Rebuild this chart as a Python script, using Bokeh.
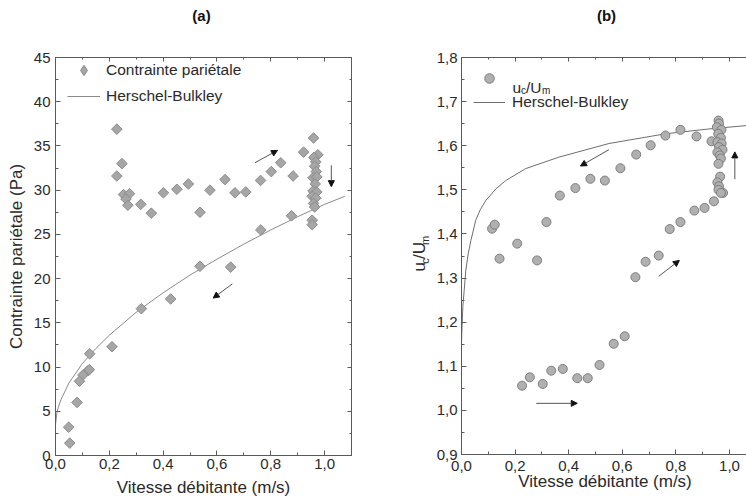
import numpy as np
from bokeh.plotting import figure
from bokeh.layouts import row, column
from bokeh.core.properties import value
from bokeh.models import (LinearAxis, SingleIntervalTicker, CustomJSTickFormatter, Legend,
                          LegendItem, Label, Arrow, NormalHead, Range1d)
from bokeh.embed import file_html
from bokeh.resources import INLINE

FONT = "Liberation Sans"

# ---------------- data: panel (a) ----------------
wall_v = [0.228, 0.228, 0.247, 0.253, 0.275, 0.262, 0.269, 0.317, 0.356, 0.401, 0.451, 0.494,
          0.537, 0.574, 0.630, 0.667, 0.707, 0.762, 0.763, 0.802, 0.837, 0.883, 0.877, 0.922,
          0.959, 0.975, 0.960, 0.967, 0.963, 0.969, 0.957, 0.971, 0.965, 0.957, 0.971, 0.954,
          0.967, 0.959, 0.963, 0.954, 0.954, 0.537, 0.651, 0.428, 0.319, 0.210, 0.127, 0.121,
          0.102, 0.126, 0.089, 0.080, 0.049, 0.053]
wall_tau = [36.9, 31.6, 33.0, 29.5, 29.6, 29.0, 28.3, 28.4, 27.4, 29.7, 30.1, 30.7,
            27.5, 30.0, 31.2, 29.7, 29.8, 31.1, 25.5, 32.1, 33.1, 31.6, 27.1, 34.3,
            35.9, 34.0, 33.7, 33.2, 32.7, 32.1, 31.4, 31.5, 30.7, 29.9, 29.8, 29.3,
            29.1, 28.5, 28.1, 26.6, 26.1, 21.4, 21.3, 17.7, 16.6, 12.3, 11.5, 9.6,
            9.1, 9.7, 8.4, 6.0, 3.2, 1.4]
hb_a_v = [0.0, 0.005, 0.01, 0.02, 0.05, 0.1, 0.15, 0.2, 0.3, 0.4, 0.5, 0.6, 0.7, 0.8, 0.9, 1.0, 1.075]
hb_a_tau = [3.5, 4.8, 5.4, 6.3, 8.2, 10.4, 12.1, 13.6, 16.2, 18.4, 20.4, 22.2, 23.9, 25.5, 27.0, 28.4, 29.3]
arrows_a_x0 = [0.741, 1.025, 0.657]
arrows_a_y0 = [33.1, 32.8, 19.4]
arrows_a_x1 = [0.825, 1.025, 0.586]
arrows_a_y1 = [34.5, 30.4, 17.8]

# ---------------- data: panel (b) ----------------
ratio_v = [0.114, 0.124, 0.208, 0.142, 0.282, 0.317, 0.367, 0.425, 0.481, 0.535, 0.593, 0.652,
           0.706, 0.761, 0.817, 0.877, 0.933,
           0.226, 0.255, 0.303, 0.335, 0.378, 0.432, 0.471, 0.515, 0.568, 0.609, 0.649, 0.687,
           0.736, 0.777, 0.817, 0.869, 0.907, 0.942, 0.976,
           0.959, 0.961, 0.953, 0.970, 0.958, 0.968, 0.955, 0.971, 0.961, 0.974, 0.955, 0.964,
           0.968, 0.959, 0.965, 0.955, 0.961, 0.959, 0.968]
ratio_u = [1.412, 1.421, 1.378, 1.344, 1.340, 1.427, 1.487, 1.504, 1.525, 1.521, 1.549, 1.580,
           1.601, 1.623, 1.636, 1.621, 1.610,
           1.056, 1.075, 1.060, 1.090, 1.094, 1.073, 1.073, 1.103, 1.151, 1.168, 1.302, 1.337,
           1.351, 1.411, 1.427, 1.453, 1.459, 1.474, 1.493,
           1.657, 1.650, 1.642, 1.636, 1.627, 1.618, 1.608, 1.605, 1.597, 1.591, 1.585, 1.578,
           1.571, 1.559, 1.530, 1.517, 1.508, 1.500, 1.493]
hb_b_v = [0.0, 0.001, 0.005, 0.010, 0.016, 0.025, 0.035, 0.053, 0.070, 0.091, 0.128, 0.165,
          0.239, 0.363, 0.55, 0.761, 0.923, 1.07]
hb_b_u = [1.15, 1.174, 1.235, 1.272, 1.317, 1.355, 1.385, 1.431, 1.455, 1.476, 1.502, 1.521,
          1.548, 1.574, 1.605, 1.627, 1.638, 1.646]
arrows_b_x0 = [0.550, 1.020, 0.736, 0.279]
arrows_b_y0 = [1.591, 1.524, 1.304, 1.016]
arrows_b_x1 = [0.444, 1.020, 0.813, 0.432]
arrows_b_y1 = [1.554, 1.586, 1.340, 1.016]

TITLES = ["(a)", "(b)"]
X_LABEL = "Vitesse débitante (m/s)"
Y_LABEL_A = "Contrainte pariétale (Pa)"

AX_COL = "#5a5a5a"
TXT_COL = "#2a2a2a"
W, H, TH = 746, 503, 30


def style_axis(ax, tick_font="15px"):
    ax.axis_line_color = AX_COL
    ax.major_tick_line_color = AX_COL
    ax.minor_tick_line_color = AX_COL
    ax.major_tick_in = 5
    ax.major_tick_out = 0
    ax.minor_tick_in = 3
    ax.minor_tick_out = 0
    ax.major_label_text_font = FONT
    ax.major_label_text_font_size = tick_font
    ax.major_label_text_color = TXT_COL
    ax.axis_label_text_font = FONT
    ax.axis_label_text_font_size = "17px"
    ax.axis_label_text_font_style = "normal"
    ax.axis_label_text_color = TXT_COL


def make_fig(xr, yr, fw, fh, bl, br, bt, bb):
    p = figure(x_range=Range1d(*xr), y_range=Range1d(*yr), frame_width=fw, frame_height=fh,
               min_border_left=bl, min_border_right=br, min_border_top=bt, min_border_bottom=bb,
               toolbar_location=None, output_backend="svg",
               background_fill_color="white", border_fill_color="white")
    p.grid.visible = False
    p.outline_line_color = AX_COL
    return p


def blank_fig(w, h, xr, yr):
    p = figure(width=w, height=h, x_range=Range1d(*xr), y_range=Range1d(*yr),
               x_axis_location=None, y_axis_location=None, toolbar_location=None,
               output_backend="svg", min_border=0, background_fill_color="white",
               border_fill_color="white")
    p.grid.visible = False
    p.outline_line_color = None
    return p


def mirror(p, side, ticker):
    ax = LinearAxis(ticker=ticker, formatter=CustomJSTickFormatter(code="return '';"))
    style_axis(ax)
    ax.major_label_standoff = 0
    ax.axis_line_color = None
    ax.major_tick_in = 4
    ax.minor_tick_in = 2
    p.add_layout(ax, side)


def comma(d):
    return CustomJSTickFormatter(code="return tick.toFixed(%d).replace('.', ',');" % d)


# ---------------- title strip (data units = canvas pixels) ----------------
pt = blank_fig(W, TH, (0, W), (TH, 0))
pt.text(x=[201, 606], y=[15, 15], text=TITLES, text_font=value(FONT), text_font_size="15px",
        text_font_style="bold", text_color="#111111", text_align="center",
        text_baseline="middle")

# ---------------- panel (a) ----------------
pa = make_fig((0, 1.1), (0, 45), 296, 398, 55, 22, 53 - TH, 52)
pa.xaxis.ticker = SingleIntervalTicker(interval=0.2, num_minor_ticks=2)
pa.yaxis.ticker = SingleIntervalTicker(interval=5, num_minor_ticks=2)
pa.xaxis.formatter = comma(1)
pa.yaxis.formatter = comma(0)
for ax in pa.xaxis + pa.yaxis:
    style_axis(ax)
pa.xaxis.axis_label = X_LABEL
pa.yaxis.axis_label = Y_LABEL_A
pa.xaxis.major_label_standoff = 3
pa.xaxis.axis_label_standoff = 6
pa.yaxis.major_label_standoff = 5
pa.yaxis.axis_label_standoff = 5
mirror(pa, "above", SingleIntervalTicker(interval=0.2, num_minor_ticks=2))
mirror(pa, "right", SingleIntervalTicker(interval=5, num_minor_ticks=2))

r_hb_a = pa.line(hb_a_v, hb_a_tau, line_color="#8a8a8a", line_width=1)
# diamond-shaped legend key, drawn under (and hidden by) the data markers
r_key_a = pa.scatter(wall_v, wall_tau, marker="diamond", size=8,
                     fill_color="#a6a6a6", line_color="#8c8c8c", line_width=1)
r_pts_a = pa.scatter(wall_v, wall_tau, marker="square", angle=np.pi / 4, size=7.5,
                     fill_color="#a6a6a6", line_color="#8c8c8c", line_width=1)
for i in range(len(arrows_a_x0)):
    pa.add_layout(Arrow(end=NormalHead(size=6, fill_color="#111111", line_color="#111111"),
                        x_start=arrows_a_x0[i], y_start=arrows_a_y0[i],
                        x_end=arrows_a_x1[i], y_end=arrows_a_y1[i],
                        line_color="#555555", line_width=1))

leg_a = Legend(items=[LegendItem(label="Contrainte pariétale", renderers=[r_key_a]),
                      LegendItem(label="Herschel-Bulkley", renderers=[r_hb_a])],
               location=(12, 346), glyph_width=33, glyph_height=26, label_height=19,
               label_standoff=6, spacing=-7, padding=0, margin=0,
               label_text_font=FONT, label_text_font_size="15.5px", label_text_color=TXT_COL,
               border_line_alpha=0, background_fill_alpha=0)
pa.add_layout(leg_a)

# ---------------- label strip for u_c/U_m y-axis label (data units = canvas pixels) ----------------
ps = blank_fig(60, H - TH, (373, 433), (0, H - TH))
A = np.pi / 2
ps.text(x=[419, 419], y=[H - 287, H - 272], text=["u", "/U"], angle=A,
        text_font=value(FONT), text_font_size="17px", text_color=TXT_COL,
        text_align="left", text_baseline="alphabetic")
ps.text(x=[424, 424], y=[H - 277.5, H - 255], text=["c", "m"], angle=A,
        text_font=value(FONT), text_font_size="11px", text_color=TXT_COL,
        text_align="left", text_baseline="alphabetic")

# ---------------- panel (b) ----------------
pb = make_fig((0, 1.071), (0.9, 1.8), 287, 397, 26, 0, 57 - TH, 49)
pb.xaxis.ticker = SingleIntervalTicker(interval=0.2, num_minor_ticks=2)
pb.yaxis.ticker = SingleIntervalTicker(interval=0.1, num_minor_ticks=2)
pb.xaxis.formatter = comma(1)
pb.yaxis.formatter = comma(1)
for ax in pb.xaxis + pb.yaxis:
    style_axis(ax)
pb.xaxis.axis_label = X_LABEL
pb.xaxis.major_label_standoff = 6
pb.xaxis.axis_label_standoff = -2
pb.yaxis.major_label_standoff = 4
mirror(pb, "above", SingleIntervalTicker(interval=0.2, num_minor_ticks=2))

r_hb_b = pb.line(hb_b_v, hb_b_u, line_color="#6e6e6e", line_width=1)
r_pts_b = pb.scatter(ratio_v, ratio_u, marker="circle", size=9,
                     fill_color="#b0b0b0", line_color="#7e7e7e", line_width=1)
for i in range(len(arrows_b_x0)):
    pb.add_layout(Arrow(end=NormalHead(size=6, fill_color="#111111", line_color="#111111"),
                        x_start=arrows_b_x0[i], y_start=arrows_b_y0[i],
                        x_end=arrows_b_x1[i], y_end=arrows_b_y1[i],
                        line_color="#555555", line_width=1))

leg_b = Legend(items=[LegendItem(label="", renderers=[r_pts_b]),
                      LegendItem(label="Herschel-Bulkley", renderers=[r_hb_b])],
               location=(12, 340), glyph_width=32, glyph_height=24, label_height=24,
               label_standoff=7, spacing=0, padding=0, margin=0,
               label_text_font=FONT, label_text_font_size="15.5px", label_text_color=TXT_COL,
               border_line_alpha=0, background_fill_alpha=0)
pb.add_layout(leg_b)


def lab(p, x, y, t, size):
    p.add_layout(Label(x=x, y=y, x_units="screen", y_units="screen", text=t,
                       text_align="left", text_baseline="alphabetic", text_font=FONT,
                       text_font_size=size, text_color=TXT_COL))


# legend label u_c/U_m (frame-relative screen units; frame left=459, bottom=454)
lab(pb, 510 - 459, 454 - 87, "u", "15.5px")
lab(pb, 518.5 - 459, 454 - 90, "c", "10px")
lab(pb, 523.5 - 459, 454 - 87, "/U", "15.5px")
lab(pb, 539.5 - 459, 454 - 90, "m", "10px")

layout = column(pt, row(pa, ps, pb))
open("out.html", "w").write(file_html(layout, INLINE))
